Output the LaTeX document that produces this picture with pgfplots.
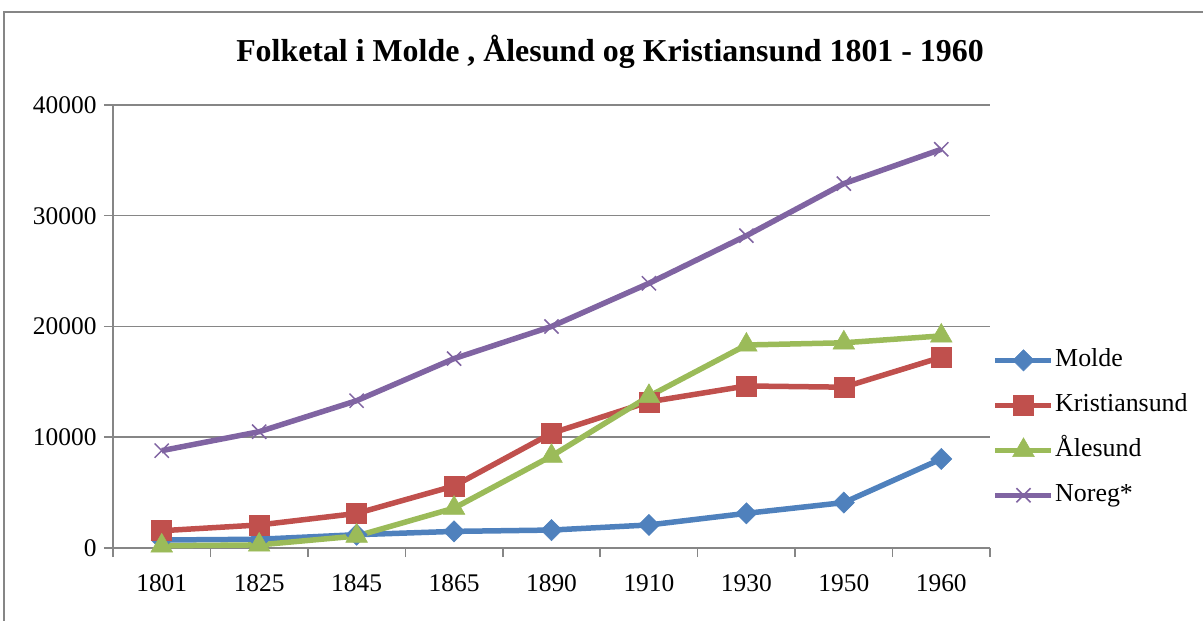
\documentclass[border=0pt]{standalone}
\usepackage{fontspec}
\setmainfont{Liberation Serif}
\usepackage{pgfplots}
\pgfplotsset{compat=1.18}

\definecolor{molde}{HTML}{4F81BD}
\definecolor{krist}{HTML}{C0504D}
\definecolor{ales}{HTML}{9BBB59}
\definecolor{noreg}{HTML}{8064A2}
\definecolor{axgray}{HTML}{868686}

\begin{document}
\begin{tikzpicture}
\useasboundingbox (0,0) rectangle (1203bp,621bp);
\draw[axgray, line width=1.5bp] (4bp,0) -- (4bp,609bp) -- (1203bp,609bp);
\node[font=\fontsize{32}{34}\selectfont\bfseries] at (610bp,569bp) {Folketal i Molde , Ålesund og Kristiansund 1801 - 1960};
\begin{axis}[
  at={(113bp,73bp)}, anchor=south west,
  scale only axis, width=877bp, height=443bp,
  xmin=-0.5, xmax=8.5, ymin=0, ymax=40000,
  xtick={0,...,8},
  xticklabels={1801,1825,1845,1865,1890,1910,1930,1950,1960},
  minor xtick={-0.5,0.5,...,8.5},
  ytick={0,10000,...,40000},
  scaled y ticks=false,
  yticklabel style={/pgf/number format/1000 sep={}},
  /pgf/number format/assume math mode=true,
  tick label style={font=\fontsize{25.5}{26}\selectfont},
  xticklabel style={yshift=-14bp},
  yticklabel style={xshift=-4bp},
  axis x line*=bottom, axis y line*=left,
  axis line style={-, axgray, line width=1.5bp},
  tick align=outside,
  major x tick style={draw=none},
  minor tick length=9bp, major tick length=9bp,
  every tick/.style={axgray, line width=1.5bp},
  ymajorgrids,
  grid style={axgray, line width=1.5bp},
  legend style={at={(0.9995,0.458)}, anchor=north west, draw=none, fill=none,
    font=\fontsize{26}{26}\selectfont, row sep=19bp,
    nodes={inner sep=1bp, text height=18bp, text depth=6bp}},
  legend cell align=left,
  legend image code/.code={\draw[mark repeat=2, mark phase=2] plot coordinates {(0bp,0bp) (28bp,0bp) (56bp,0bp)};},
  clip=false,
]
\addplot[molde, line width=5.5bp, mark=square*, mark size=7.5bp, mark options={rotate=45, solid, line width=0.5bp}]
  coordinates {(0,720) (1,790) (2,1200) (3,1500) (4,1620) (5,2080) (6,3130) (7,4100) (8,8040)};
\addplot[krist, line width=5.5bp, mark=square*, mark size=10bp, mark options={solid, line width=0.5bp}]
  coordinates {(0,1560) (1,2080) (2,3120) (3,5600) (4,10360) (5,13200) (6,14630) (7,14520) (8,17220)};
\addplot[ales, line width=5.5bp, mark=triangle*, mark size=12.5bp, mark options={solid, line width=0.5bp}]
  coordinates {(0,200) (1,280) (2,1080) (3,3600) (4,8300) (5,13700) (6,18330) (7,18530) (8,19150)};
\addplot[noreg, line width=5.5bp, mark=x, mark size=10bp, mark options={solid, line width=1.5bp}]
  coordinates {(0,8790) (1,10500) (2,13300) (3,17100) (4,20000) (5,23900) (6,28200) (7,32900) (8,36000)};
\legend{Molde,Kristiansund,Ålesund,Noreg*}
\end{axis}
\end{tikzpicture}
\end{document}
